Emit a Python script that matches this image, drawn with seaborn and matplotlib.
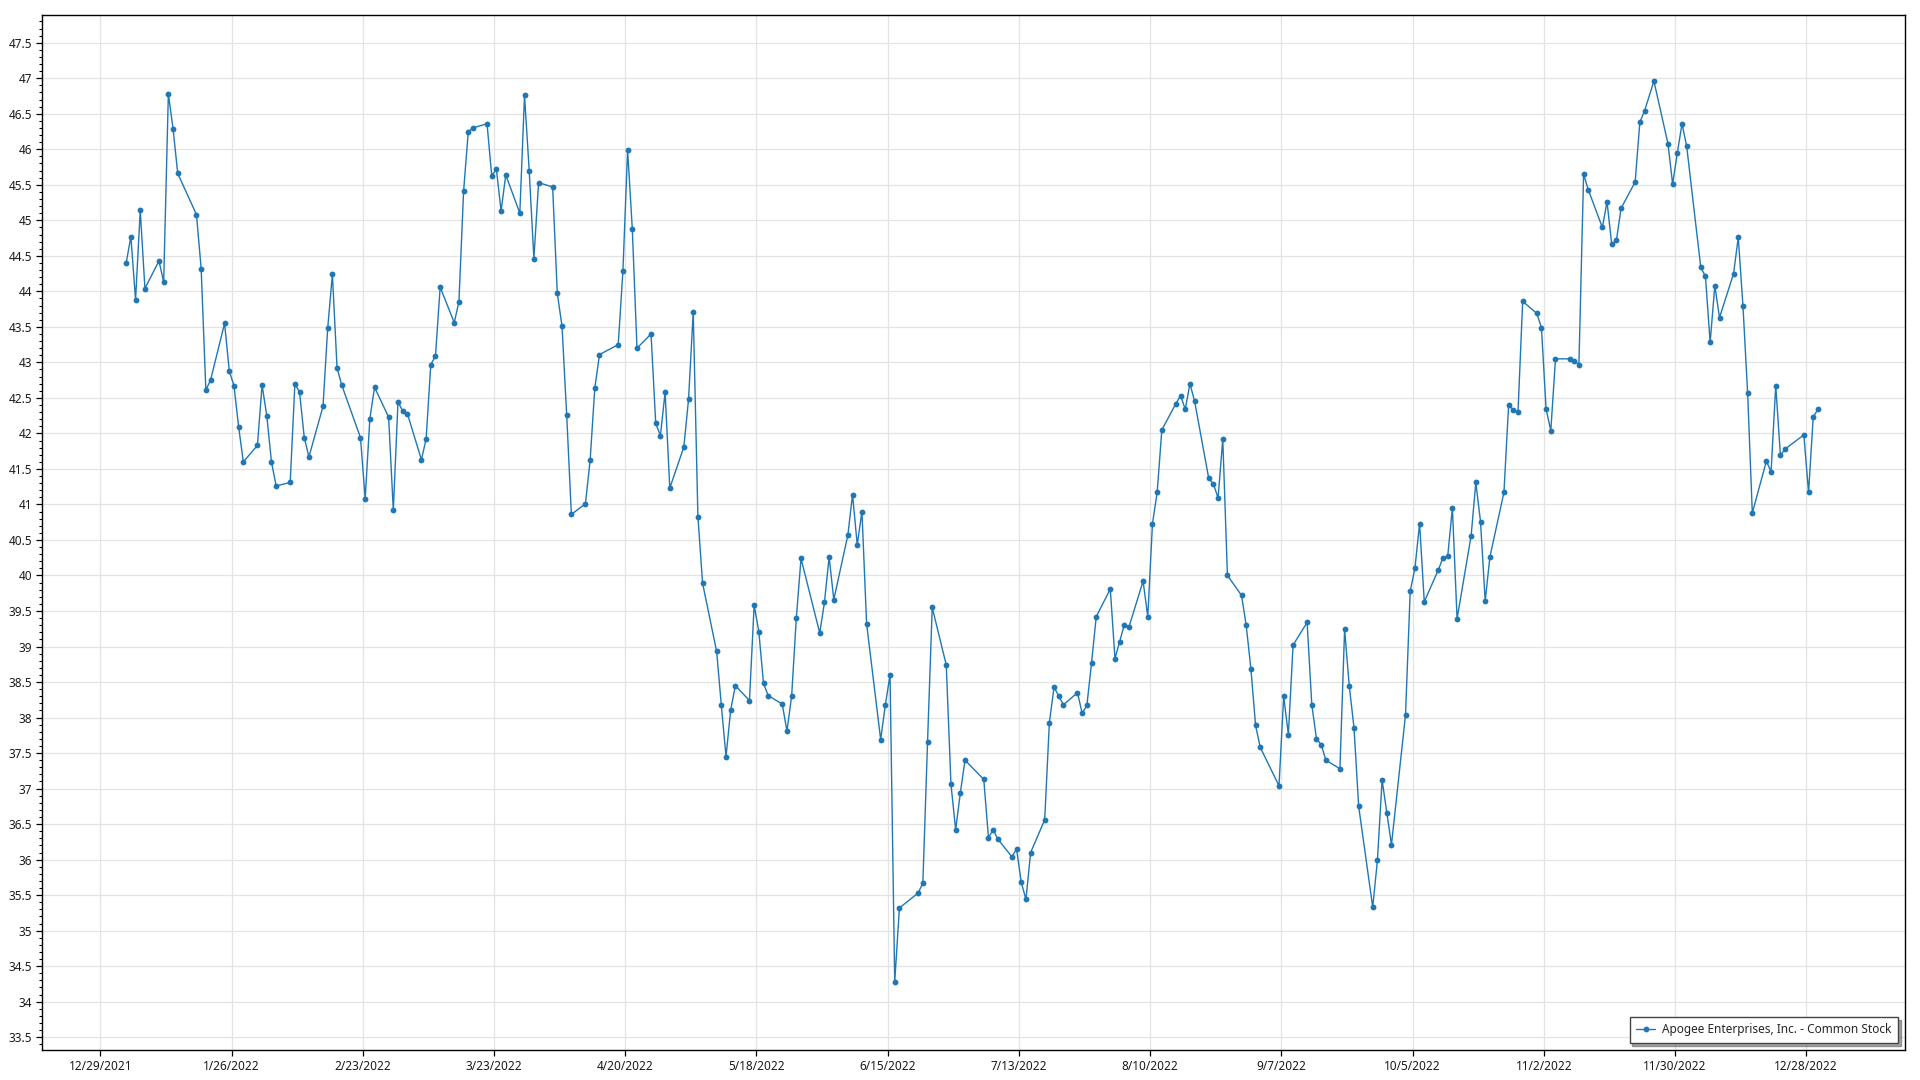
import numpy as np
import pandas as pd
import matplotlib
matplotlib.use("Agg")
import matplotlib.pyplot as plt
import matplotlib.dates as mdates
from matplotlib.ticker import MultipleLocator, FuncFormatter
import seaborn as sns

# ---- data -------------------------------------------------------------
series_name = "Apogee Enterprises, Inc. - Common Stock"
holidays_2022 = ["2022-01-17", "2022-02-21", "2022-04-15", "2022-05-30", "2022-06-20",
                 "2022-07-04", "2022-09-05", "2022-11-24", "2022-12-26"]
jan = [44.40, 44.77, 43.88, 45.14, 44.04, 44.43, 44.13, 46.78, 46.29, 45.66, 45.08, 44.32, 42.61, 42.75,
       43.55, 42.88, 42.67, 42.09, 41.60, 41.83]
feb = [42.68, 42.25, 41.60, 41.26, 41.31, 42.70, 42.58, 41.94, 41.67, 42.38, 43.48, 44.24, 42.92, 42.68,
       41.94, 41.08, 42.21, 42.65, 42.23]
mar = [40.92, 42.44, 42.32, 42.28, 41.63, 41.92, 42.97, 43.09, 44.06, 43.56, 43.85, 45.41, 46.25, 46.30,
       46.36, 45.63, 45.72, 45.13, 45.64, 45.10, 46.76, 45.70, 44.46]
apr = [45.53, 45.47, 43.97, 43.51, 42.26, 40.86, 41.01, 41.62, 42.64, 43.11, 43.25, 44.29, 45.99, 44.88,
       43.20, 43.40, 42.14, 41.97, 42.58, 41.23]
may = [41.81, 42.48, 43.71, 40.83, 39.89, 38.93, 38.17, 37.45, 38.11, 38.45, 38.24, 39.58, 39.21, 38.48,
       38.31, 38.19, 37.81, 38.30, 39.40, 40.24, 39.19]
jun = [39.62, 40.26, 39.66, 40.57, 41.14, 40.43, 40.90, 39.32, 37.69, 38.18, 38.60, 34.28, 35.32, 35.53,
       35.67, 37.65, 39.55, 38.74, 37.06, 36.42, 36.94]
jul = [37.40, 37.13, 36.31, 36.42, 36.29, 36.04, 36.15, 35.68, 35.44, 36.10, 36.56, 37.93, 38.43, 38.30,
       38.18, 38.35, 38.06, 38.17, 38.77, 39.42]
aug = [39.81, 38.83, 39.07, 39.31, 39.28, 39.92, 39.42, 40.73, 41.17, 42.05, 42.42, 42.53, 42.34, 42.70,
       42.45, 41.37, 41.29, 41.09, 41.92, 40.00, 39.72, 39.30, 38.69]
sep = [37.89, 37.58, 37.04, 38.30, 37.76, 39.02, 39.34, 38.18, 37.70, 37.62, 37.40, 37.28, 39.24, 38.44,
       37.86, 36.75, 35.33, 35.99, 37.12, 36.66, 36.21]
oct_ = [38.04, 39.78, 40.10, 40.73, 39.63, 40.08, 40.25, 40.27, 40.95, 39.39, 40.56, 41.31, 40.76, 39.64,
        40.26, 41.17, 42.40, 42.33, 42.30, 43.86, 43.69]
nov = [43.49, 42.34, 42.04, 43.05, 43.05, 43.02, 42.97, 45.65, 45.43, 44.90, 45.26, 44.66, 44.72, 45.17,
       45.54, 46.38, 46.54, 46.96, 46.08, 45.51, 45.95]
dec = [46.36, 46.04, 44.34, 44.21, 43.28, 44.08, 43.63, 44.25, 44.76, 43.80, 42.57, 40.88, 41.61, 41.46,
       42.67, 41.69, 41.78, 41.98, 41.17, 42.23, 42.34]

closes = jan + feb + mar + apr + may + jun + jul + aug + sep + oct_ + nov + dec
dates = pd.bdate_range("2022-01-03", "2022-12-30", freq="C", holidays=holidays_2022)
# the source plots each session slightly past midnight of its date
dates = dates + pd.Timedelta(hours=12)
df = pd.DataFrame({"date": dates, "close": closes})

tick_dates = pd.date_range("2021-12-29", periods=14, freq="28D")
tick_labels = [f"{d.month}/{d.day}/{d.year}" for d in tick_dates]

# ---- style -------------------------------------------------------------
sns.set_style("white")
plt.rcParams["font.family"] = ["Noto Sans", "DejaVu Sans"]
plt.rcParams["font.size"] = 8.5

fig = plt.figure(figsize=(19.2, 10.8), dpi=100)
ax = fig.add_axes([0.02203, 0.02778, 0.9702, 0.9583])

sns.lineplot(data=df, x="date", y="close", ax=ax, color="#1f77b4", linewidth=1.0,
             marker="o", markersize=4.2, markeredgewidth=0, label=series_name)

d0 = mdates.date2num(pd.Timestamp("2021-12-29"))
ax.set_xlim(d0 - 12.4, d0 + 385.1)
ax.set_ylim(33.32, 47.89)

ax.set_xticks(mdates.date2num(tick_dates))
ax.set_xticklabels(tick_labels)
ax.yaxis.set_major_locator(MultipleLocator(0.5))
ax.yaxis.set_minor_locator(MultipleLocator(0.1))
ax.yaxis.set_major_formatter(FuncFormatter(lambda v, p: f"{v:g}"))

ax.grid(True, which="major", color="#e3e3e3", linewidth=0.9)
ax.set_axisbelow(True)
for s in ax.spines.values():
    s.set_color("black")
    s.set_linewidth(1.0)
ax.tick_params(axis="both", which="major", direction="out", length=4.5, width=0.9,
               color="black", labelcolor="#1a1a1a", labelsize=8.5, pad=3)
ax.tick_params(axis="y", which="minor", direction="out", length=2.5, width=0.8, color="black",
               left=True)
ax.tick_params(axis="x", which="major", bottom=True)
ax.tick_params(axis="y", which="major", left=True)
ax.set_xlabel("")
ax.set_ylabel("")

leg = ax.legend(loc="lower right", frameon=True, fancybox=False, shadow=True, framealpha=1,
                edgecolor="#444444", fontsize=8.5, handlelength=1.6, borderpad=0.55,
                borderaxespad=0.6, handletextpad=0.6)
leg.get_frame().set_linewidth(1.0)

fig.savefig("out.png", dpi=100)
